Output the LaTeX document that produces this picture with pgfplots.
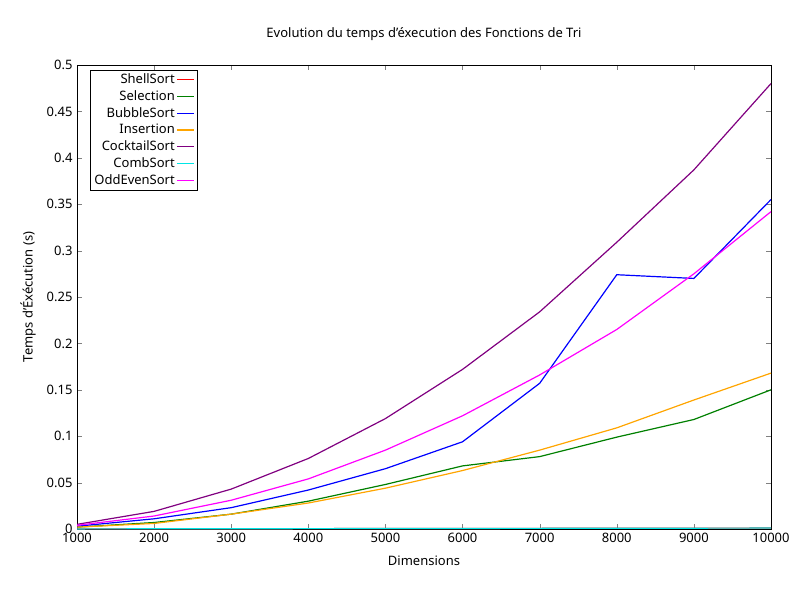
\documentclass[border=0pt]{standalone}
\usepackage{fontspec}
\setmainfont{Noto Sans}
\usepackage{pgfplots}
\pgfplotsset{compat=1.18}
\definecolor{gpgreen}{RGB}{0,128,0}
\definecolor{gporange}{RGB}{255,165,0}
\definecolor{gppurple}{RGB}{128,0,128}
\definecolor{gpcyan}{RGB}{0,230,230}
\definecolor{gpmag}{RGB}{255,0,255}
\begin{document}
\fontsize{13}{15}\selectfont
\begin{tikzpicture}[x=1pt,y=1pt]
\useasboundingbox (0,0) rectangle (800,600);
\begin{axis}[at={(77pt,71pt)},anchor=south west,scale only axis,width=694pt,height=464pt,
 xmin=1000,xmax=10000,ymin=0,ymax=0.5,xtick distance=1000,ytick distance=0.05,
 tick align=inside,major tick length=5pt,
 /pgf/number format/assume math mode=true,
 scaled x ticks=false,scaled y ticks=false,
 xticklabel style={/pgf/number format/1000 sep={}},
 yticklabel style={/pgf/number format/fixed,/pgf/number format/precision=2},
 title={Evolution du temps d'éxecution des Fonctions de Tri},
 title style={yshift=14pt},
 xlabel={Dimensions},ylabel={Temps d'Éxécution (s)},
 xlabel style={yshift=-4pt},ylabel style={yshift=2pt},
 legend plot pos=right,legend cell align=right,
 legend style={at={(0.019,0.99)},anchor=north west,draw=black,row sep=1pt,inner sep=2pt,
   font=\fontsize{13}{15}\selectfont},
 every axis plot/.append style={line width=1.2pt,no marks}]
\addplot[red] coordinates {(1000,0.0001)(2000,0.0002)(3000,0.0003)(4000,0.0004)(5000,0.0005)(6000,0.0006)(7000,0.0007)(8000,0.0008)(9000,0.0009)(10000,0.001)};
\addlegendentry{ShellSort}
\addplot[gpgreen] coordinates {(1000,0.002)(2000,0.007)(3000,0.016)(4000,0.030)(5000,0.048)(6000,0.068)(7000,0.078)(8000,0.099)(9000,0.118)(10000,0.150)};
\addlegendentry{Selection}
\addplot[blue] coordinates {(1000,0.003)(2000,0.011)(3000,0.023)(4000,0.042)(5000,0.065)(6000,0.094)(7000,0.157)(8000,0.274)(9000,0.270)(10000,0.355)};
\addlegendentry{BubbleSort}
\addplot[gporange] coordinates {(1000,0.002)(2000,0.006)(3000,0.016)(4000,0.028)(5000,0.044)(6000,0.063)(7000,0.085)(8000,0.109)(9000,0.139)(10000,0.168)};
\addlegendentry{Insertion}
\addplot[gppurple] coordinates {(1000,0.005)(2000,0.019)(3000,0.043)(4000,0.076)(5000,0.119)(6000,0.172)(7000,0.234)(8000,0.309)(9000,0.387)(10000,0.480)};
\addlegendentry{CocktailSort}
\addplot[gpcyan] coordinates {(1000,0.0001)(2000,0.0002)(3000,0.0003)(4000,0.0004)(5000,0.0005)(6000,0.0006)(7000,0.0007)(8000,0.0008)(9000,0.0009)(10000,0.001)};
\addlegendentry{CombSort}
\addplot[gpmag] coordinates {(1000,0.004)(2000,0.014)(3000,0.031)(4000,0.054)(5000,0.085)(6000,0.122)(7000,0.166)(8000,0.215)(9000,0.275)(10000,0.342)};
\addlegendentry{OddEvenSort}
\end{axis}
\end{tikzpicture}
\end{document}
